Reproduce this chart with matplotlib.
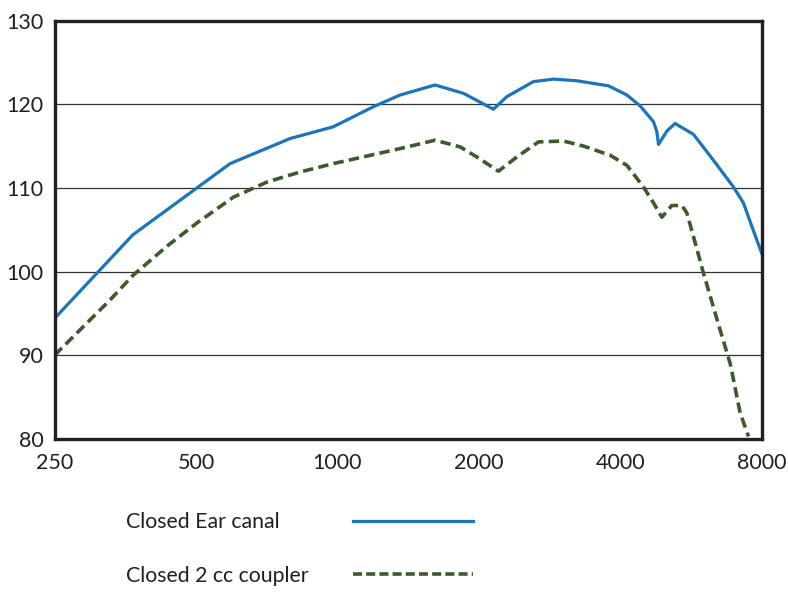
import matplotlib
matplotlib.use("Agg")
import matplotlib.pyplot as plt
from matplotlib.lines import Line2D

# Frequency response, closed ear canal vs closed 2 cc coupler (dB SPL)
ear_freq = [250, 367, 591, 793, 980, 1193, 1360, 1614, 1855, 2148, 2294,
            2614, 2884, 3233, 3776, 4132, 4410, 4709, 4786, 4825, 5029,
            5232, 5726, 6317, 6968, 7316, 7625, 8000]
ear_level = [94.4, 104.4, 112.9, 115.9, 117.3, 119.7, 121.1, 122.3, 121.3,
             119.4, 120.9, 122.7, 123.0, 122.8, 122.2, 121.1, 119.8, 117.9,
             116.7, 115.2, 116.8, 117.7, 116.4, 113.3, 110.1, 108.2, 105.4,
             102.2]

coupler_freq = [250, 328, 368, 433, 502, 601, 708, 833, 980, 1360, 1614,
                1825, 1980, 2202, 2410, 2680, 3028, 3340, 3807, 4132, 4483,
                4709, 4905, 5150, 5410, 5545, 5778, 6015, 6528, 6857, 7200,
                7500]
coupler_level = [90.0, 96.6, 99.6, 103.0, 105.8, 108.9, 110.7, 111.9, 112.9,
                 114.7, 115.7, 114.9, 113.7, 112.0, 113.7, 115.5, 115.6, 115.0,
                 113.9, 112.7, 110.1, 108.2, 106.5, 107.9, 107.9, 107.0, 103.4,
                 99.8, 93.0, 89.0, 83.1, 80.3]

x_ticks = [250, 500, 1000, 2000, 4000, 8000]
x_tick_labels = ["250", "500", "1000", "2000", "4000", "8000"]
y_ticks = [80, 90, 100, 110, 120, 130]

series_names = ["Closed Ear canal", "Closed 2 cc coupler"]
blue = "#1b75bc"
green = "#3b5b2a"
ink = "#231f20"

plt.rcParams["font.family"] = ["Lato", "DejaVu Sans"]
plt.rcParams["lines.scale_dashes"] = False

fig = plt.figure(figsize=(7.88, 5.93), dpi=100)
ax = fig.add_axes([0.0692, 0.2597, 0.8974, 0.7057])

ax.plot(ear_freq, ear_level, color=blue, lw=2.3)
ax.plot(coupler_freq, coupler_level, color=green, lw=2.6, dashes=(7.5, 3.8))

ax.set_xscale("log", base=2)
ax.set_xlim(250, 8000)
ax.set_ylim(80, 130)
ax.set_xticks(x_ticks)
ax.set_xticklabels(x_tick_labels)
ax.minorticks_off()
ax.set_yticks(y_ticks)

ax.yaxis.grid(True, color="#333333", lw=0.9)
ax.set_axisbelow(True)
for side in ax.spines.values():
    side.set_linewidth(2.4)
    side.set_color(ink)

ax.tick_params(axis="both", length=0, labelsize=15.5, colors=ink)
ax.tick_params(axis="x", pad=10)
ax.tick_params(axis="y", pad=8)

# key below the plot: label on the left, line sample on the right
key_rows = [1 - 522 / 593, 1 - 576 / 593]
fig.text(126 / 788, key_rows[0], series_names[0], fontsize=15.3,
         color=ink, va="center")
fig.text(126 / 788, key_rows[1], series_names[1], fontsize=15.3,
         color=ink, va="center")
fig.add_artist(Line2D([353 / 788, 473 / 788], [key_rows[0] + 0.002] * 2,
                      transform=fig.transFigure, color=blue, lw=2.3))
fig.add_artist(Line2D([353 / 788, 473 / 788], [key_rows[1] + 0.004] * 2,
                      transform=fig.transFigure, color=green, lw=2.6,
                      dashes=(6.5, 3.0)))

fig.savefig("out.png", dpi=100)
